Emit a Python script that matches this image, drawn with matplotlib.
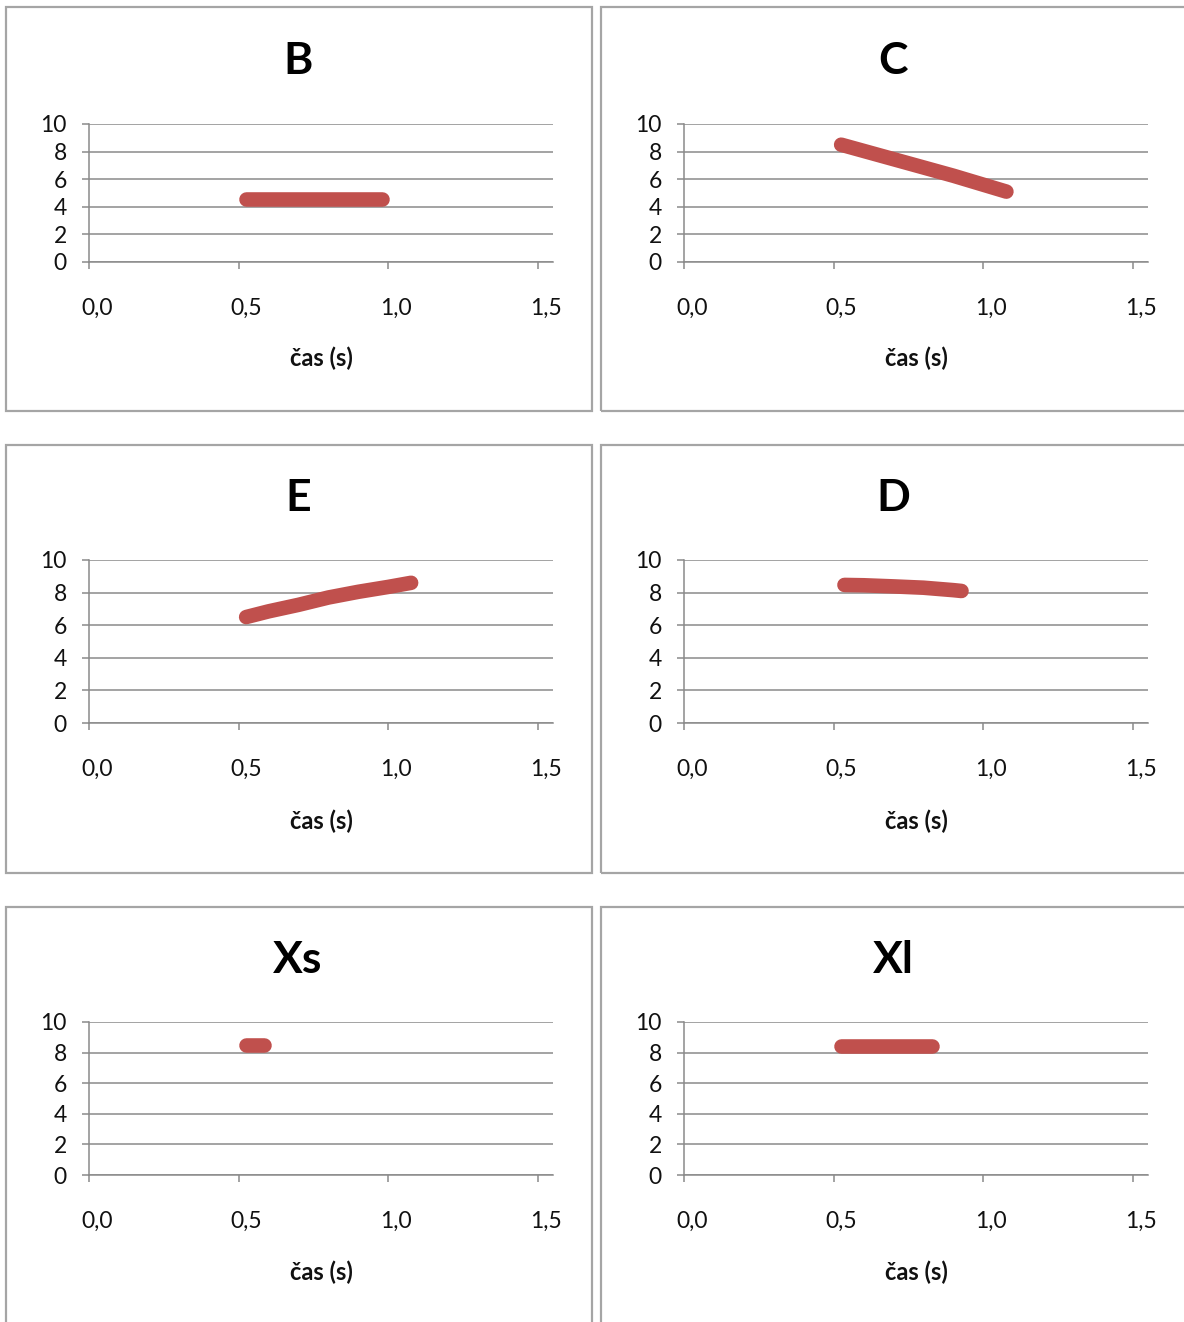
import matplotlib
matplotlib.use("Agg")
import matplotlib.pyplot as plt
from matplotlib.patches import Rectangle
from matplotlib.transforms import ScaledTranslation

plt.rcParams['font.family'] = ['Lato', 'DejaVu Sans']

# panel titles, in reading order (left to right, top to bottom)
titles = ['B', 'C', 'E', 'D', 'Xs', 'Xl']

# time (s) and value of each trace
t_B = [0.523, 0.6, 0.7, 0.8, 0.9, 0.98]
v_B = [4.55, 4.55, 4.55, 4.55, 4.55, 4.55]

t_C = [0.525, 0.6, 0.7, 0.8, 0.9, 1.0, 1.077]
v_C = [8.5, 8.05, 7.45, 6.85, 6.25, 5.6, 5.1]

t_E = [0.525, 0.6, 0.7, 0.8, 0.9, 1.0, 1.076]
v_E = [6.5, 6.85, 7.25, 7.7, 8.05, 8.35, 8.6]

t_D = [0.536, 0.6, 0.7, 0.8, 0.9, 0.927]
v_D = [8.47, 8.45, 8.38, 8.3, 8.15, 8.1]

t_Xs = [0.526, 0.555, 0.583]
v_Xs = [8.5, 8.5, 8.5]

t_Xl = [0.523, 0.6, 0.7, 0.8, 0.827]
v_Xl = [8.43, 8.43, 8.43, 8.43, 8.43]

series = [(t_B, v_B), (t_C, v_C), (t_E, v_E), (t_D, v_D), (t_Xs, v_Xs), (t_Xl, v_Xl)]

x_ticks = [0.0, 0.5, 1.0, 1.5]
x_tick_labels = ['0,0', '0,5', '1,0', '1,5']
y_ticks = [0, 2, 4, 6, 8, 10]
x_label = 'čas (s)'

W, H = 1184, 1322
fig = plt.figure(figsize=(W / 100, H / 100), dpi=100)
fig.patch.set_facecolor('white')

red = '#c0504d'
grid_col = '#8a8a8a'
box_col = '#a5a5a5'

# pixel layout of the panels
ax_left = [89, 684]
ax_width = 464
row_span = [(124, 262), (560, 723), (1022, 1175)]
box_x = [(6, 592), (600.5, 1195)]
box_y = [(7, 411.5), (445, 873), (907, 1335)]
title_x = [298, 893]
title_y = [61, 498, 960]
xlabel_y = [358, 821, 1272]


def fx(px):
    return px / W


def fy(py):
    return 1 - py / H


for i, name in enumerate(titles):
    r, c = divmod(i, 2)

    # panel frame
    x0, x1 = box_x[c]
    y0, y1 = box_y[r]
    fig.patches.append(Rectangle((fx(x0), fy(y1)), fx(x1 - x0), (y1 - y0) / H,
                                 transform=fig.transFigure, fill=False,
                                 edgecolor=box_col, linewidth=1.6, zorder=0))

    top, bot = row_span[r]
    ax = fig.add_axes([fx(ax_left[c]), fy(bot), fx(ax_width), (bot - top) / H])
    ax.set_xlim(0, 1.55)
    ax.set_ylim(0, 10)

    ax.set_yticks(y_ticks)
    ax.set_yticklabels([str(v) for v in y_ticks])
    ax.set_xticks(x_ticks)
    ax.set_xticklabels(x_tick_labels)
    ax.grid(axis='y', color=grid_col, linewidth=1.1)
    ax.set_axisbelow(True)

    for side in ['top', 'right']:
        ax.spines[side].set_visible(False)
    for side in ['left', 'bottom']:
        ax.spines[side].set_color(grid_col)
        ax.spines[side].set_linewidth(1.1)

    ax.tick_params(axis='y', length=5, width=1.1, color=grid_col, pad=11,
                   labelsize=16.5, labelcolor='#111111')
    ax.tick_params(axis='x', length=5, width=1.1, color=grid_col, pad=20.5,
                   labelsize=16.5, labelcolor='#111111')
    shift = ScaledTranslation(8 / 100, 0, fig.dpi_scale_trans)
    for lbl in ax.get_xticklabels():
        lbl.set_transform(lbl.get_transform() + shift)

    t, v = series[i]
    ax.plot(t, v, color=red, linewidth=10.5, solid_capstyle='round',
            solid_joinstyle='round', clip_on=False, zorder=3)

    fig.text(fx(title_x[c]), fy(title_y[r]), name, ha='center', va='center',
             fontsize=32, fontweight='bold', color='black')
    fig.text(fx(ax_left[c] + ax_width / 2), fy(xlabel_y[r]), x_label,
             ha='center', va='center', fontsize=17, fontweight='bold',
             color='#111111')

fig.savefig('out.png', dpi=100, facecolor='white')
